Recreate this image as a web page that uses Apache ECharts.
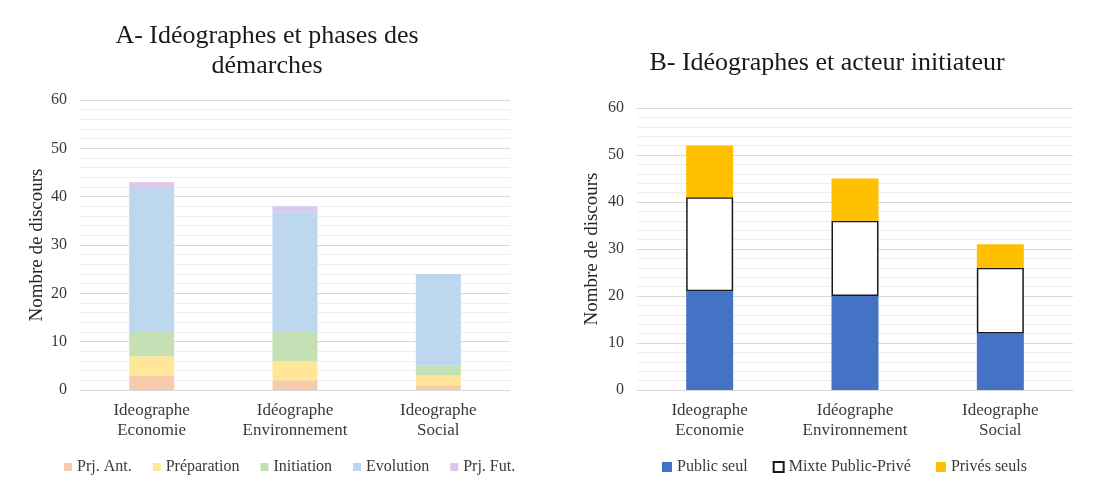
<!DOCTYPE html>
<html>
<head>
<meta charset="utf-8">
<script src="https://cdn.jsdelivr.net/npm/echarts@6/dist/echarts.min.js"></script>
<style>
  html, body { margin: 0; padding: 0; background: #fff; }
  #chart { width: 1110px; height: 481px; }
</style>
</head>
<body>
<div id="chart"></div>
<script>
// Categories shared by both panels
const categories = ['Ideographe\nEconomie', 'Idéographe\nEnvironnement', 'Ideographe\nSocial'];

// Panel A: phases of the approaches
const phaseNames = ['Prj. Ant.', 'Préparation', 'Initiation', 'Evolution', 'Prj. Fut.'];
const prjAnt      = [3, 2, 1];
const preparation = [4, 4, 2];
const initiation  = [5, 6, 2];
const evolution   = [30, 25, 19];
const prjFut      = [1, 1, 0];
const phaseColors = ['#f8cbad', '#ffe699', '#c5e0b4', '#bdd7ee', '#dcc6ec'];

// Panel B: initiating actor
const actorNames = ['Public seul', 'Mixte Public-Privé', 'Privés seuls'];
const publicSeul = [21, 20, 12];
const mixte      = [20, 16, 14];
const prives     = [11, 9, 5];

// Shared y-axis ticks
const yMin = 0, yMax = 60, yStep = 10;

const FONT = '"Liberation Serif", "Times New Roman", serif';
const TXT = '#3a3a3a';

function valueAxis(gridIndex, nameGap) {
  return {
    type: 'value', gridIndex, min: yMin, max: yMax, interval: yStep,
    name: 'Nombre de discours', nameLocation: 'middle', nameGap,
    nameTextStyle: { fontFamily: FONT, fontSize: 19, color: '#262626' },
    axisLine: { show: false }, axisTick: { show: false },
    axisLabel: { fontFamily: FONT, fontSize: 16, color: TXT, margin: 13 },
    splitLine: { lineStyle: { color: '#d9d9d9', width: 1 } },
    minorTick: { show: false, splitNumber: 5 },
    minorSplitLine: { show: true, lineStyle: { color: '#eeeeee', width: 1 } }
  };
}

function categoryAxis(gridIndex) {
  return {
    type: 'category', gridIndex, data: categories,
    axisLine: { lineStyle: { color: '#d9d9d9' } },
    axisTick: { show: false },
    axisLabel: { fontFamily: FONT, fontSize: 17, color: TXT, lineHeight: 20, margin: 11 }
  };
}

const phaseData = [prjAnt, preparation, initiation, evolution, prjFut];
const seriesA = phaseNames.map((name, i) => ({
  name, type: 'bar', stack: 'A', xAxisIndex: 0, yAxisIndex: 0,
  barWidth: 45, data: phaseData[i],
  itemStyle: { color: phaseColors[i] }
}));

const seriesB = [
  { name: actorNames[0], type: 'bar', stack: 'B', xAxisIndex: 1, yAxisIndex: 1,
    barWidth: 47, data: publicSeul, itemStyle: { color: '#4472c4' } },
  { name: actorNames[1], type: 'bar', stack: 'B', xAxisIndex: 1, yAxisIndex: 1,
    barWidth: 47, data: mixte,
    itemStyle: { color: '#ffffff', borderColor: '#1a1a1a', borderWidth: 1.5 } },
  { name: actorNames[2], type: 'bar', stack: 'B', xAxisIndex: 1, yAxisIndex: 1,
    barWidth: 47, data: prives, itemStyle: { color: '#ffc000' } }
];

const legendText = { fontFamily: FONT, fontSize: 16, color: TXT };

const option = {
  animation: false,
  backgroundColor: '#ffffff',
  title: [
    { text: 'A- Idéographes et phases des\ndémarches', left: 262, top: 16, textAlign: 'center',
      textStyle: { fontFamily: FONT, fontSize: 26, fontWeight: 'normal', color: '#1a1a1a', lineHeight: 30 } },
    { text: 'B- Idéographes et acteur initiateur', left: 822, top: 45, textAlign: 'center',
      textStyle: { fontFamily: FONT, fontSize: 26, fontWeight: 'normal', color: '#1a1a1a' } }
  ],
  legend: [
    { data: phaseNames, left: 59, top: 454, itemWidth: 8, itemHeight: 8, itemGap: 21,
      icon: 'rect', textStyle: legendText, selectedMode: false },
    { data: actorNames, left: 657, top: 454, itemWidth: 10, itemHeight: 10, itemGap: 25,
      icon: 'rect', textStyle: legendText, selectedMode: false }
  ],
  grid: [
    { left: 80, right: 600, top: 100, bottom: 91 },
    { left: 637, right: 37, top: 108, bottom: 91 }
  ],
  xAxis: [categoryAxis(0), categoryAxis(1)],
  yAxis: [valueAxis(0, 33), valueAxis(1, 35)],
  series: seriesA.concat(seriesB)
};

echarts.init(document.getElementById('chart'), null, { renderer: 'canvas' }).setOption(option);
</script>
</body>
</html>
